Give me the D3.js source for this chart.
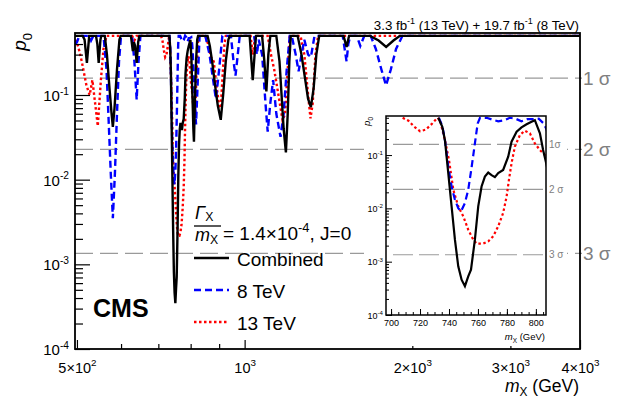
<!DOCTYPE html>
<html>
<head>
<meta charset="utf-8">
<script src="https://cdn.jsdelivr.net/npm/d3@7"></script>
<style>
body { margin: 0; background: #fff; }
text { font-family: "Liberation Sans", Arial, sans-serif; }
</style>
</head>
<body>
<div id="chart"></div>
<script>
// p0 scans: [m_X (GeV), p0]
const combined = [
  [496,0.5],[512,0.5],[516,0.45],[521,0.24],[526,0.5],[541,0.5],[544,0.4],[547,0.24],[551,0.45],[553,0.5],
  [561,0.5],[566,0.3],[572,0.12],[577,0.06],[580,0.042],[584,0.07],[590,0.2],[596,0.45],[599,0.5],
  [625,0.5],[630,0.33],[633,0.42],[636,0.38],[640,0.24],[644,0.42],[647,0.5],
  [732.6,0.5],[735.4,0.34],[737.2,0.19],[739.5,0.046],[741.8,0.0109],[744.1,0.00259],[746.4,0.00082],
  [748.7,0.00046],[751,0.000347],[753.3,0.00053],[755.2,0.00071],[757.9,0.00259],[760.2,0.0109],
  [762.5,0.0257],[764.8,0.0394],[767.1,0.0469],[769.4,0.042],[771.7,0.0385],[774,0.046],[777.4,0.0525],
  [780.9,0.093],[783.2,0.178],[786.7,0.273],[790.1,0.33],[793.6,0.377],[797,0.42],[799.3,0.45],
  [802.8,0.255],[805,0.124],[806.9,0.075],[809,0.04],[811,0.028],[814,0.08],[818,0.25],[822,0.45],[825,0.5],
  [858,0.5],[866,0.38],[875,0.24],[885,0.13],[895,0.075],[906,0.051],[915,0.1],[925,0.25],[935,0.45],[940,0.5],
  [1021,0.5],[1034,0.15],[1048,0.5],
  [1075,0.5],[1085,0.25],[1094,0.11],[1103,0.3],[1112,0.5],
  [1140,0.5],[1155,0.25],[1165,0.1],[1175,0.04],[1186,0.021],[1195,0.06],[1203,0.25],[1210,0.5],
  [1245,0.5],[1265,0.3],[1285,0.15],[1300,0.09],[1315,0.072],[1330,0.12],[1345,0.3],[1361,0.5],
  [1505,0.5],[1524,0.37],[1540,0.5],
  [1680,0.5],[1740,0.44],[1795,0.37],[1850,0.44],[1900,0.5],
  [4000,0.5]
];
const eightTeV = [
  [496,0.4],[500,0.42],[505,0.5],[526,0.5],[530,0.44],[535,0.5],
  [558,0.5],[565,0.2],[570,0.05],[575,0.012],[580,0.0035],[585,0.012],[590,0.06],[595,0.25],[600,0.5],
  [628,0.5],[634,0.25],[640,0.088],[645,0.25],[650,0.5],
  [733,0.5],[735.4,0.35],[737.2,0.19],[739.5,0.061],[741.8,0.0257],[744.1,0.0145],[746.4,0.0101],
  [748.3,0.00875],[751,0.0126],[753.3,0.0223],[755.7,0.061],[757.9,0.166],[759.8,0.39],[761.4,0.5],
  [766,0.5],[770,0.46],[774,0.43],[778,0.45],[782,0.5],[786,0.48],[790,0.43],[794,0.47],[798,0.47],
  [802,0.48],[805,0.4],[807,0.32],[812,0.12],[818,0.045],[824,0.15],[830,0.5],
  [850,0.5],[865,0.3],[878,0.15],[888,0.09],[900,0.2],[912,0.5],
  [945,0.5],[955,0.25],[963,0.17],[972,0.3],[980,0.5],
  [1040,0.5],[1052,0.3],[1060,0.45],[1075,0.3],[1090,0.08],[1100,0.037],[1112,0.08],[1125,0.15],
  [1140,0.06],[1160,0.032],[1175,0.06],[1190,0.2],[1205,0.5],
  [1215,0.5],[1235,0.3],[1250,0.19],[1265,0.3],[1280,0.45],[1300,0.3],[1315,0.28],[1335,0.5],
  [1500,0.5],[1512,0.35],[1524,0.25],[1535,0.4],[1548,0.5],
  [1590,0.5],[1613,0.38],[1640,0.5],
  [1684,0.5],[1720,0.35],[1760,0.2],[1794,0.13],[1830,0.2],[1870,0.35],[1920,0.5],
  [4000,0.5]
];
const thirteenTeV = [
  [496,0.45],[500,0.42],[505,0.33],[510,0.25],[515,0.18],[520,0.13],[527,0.1],[533,0.15],[539,0.08],
  [545,0.043],[552,0.15],[558,0.35],[565,0.5],
  [628,0.5],[634,0.44],[640,0.5],
  [708,0.5],[712,0.44],[716,0.34],[720,0.28],[724,0.3],[728,0.38],[732,0.5],[733.8,0.45],[737.2,0.19],
  [740,0.081],[743,0.0223],[746.4,0.0109],[749.9,0.00707],[753.3,0.00398],[756.8,0.00259],[759.1,0.00218],
  [763.7,0.00218],[767.1,0.0024],[770.6,0.003],[774,0.0046],[777.4,0.0082],[779.8,0.0167],[781.4,0.0343],
  [783.2,0.07],[785.5,0.144],[789,0.238],[792.4,0.286],[795.9,0.255],[799.3,0.166],[802.8,0.124],[806.2,0.1],
  [810,0.06],[814,0.045],[820,0.2],[826,0.5],
  [850,0.5],[860,0.4],[870,0.28],[880,0.25],[890,0.13],[900,0.075],[906,0.07],[912,0.15],[920,0.4],[925,0.5],
  [1025,0.5],[1034,0.3],[1045,0.5],
  [1100,0.5],[1115,0.3],[1130,0.2],[1150,0.1],[1170,0.05],[1182,0.06],[1195,0.2],[1205,0.5],
  [1260,0.5],[1280,0.3],[1300,0.1],[1313,0.053],[1325,0.08],[1340,0.3],[1355,0.5],
  [4000,0.5]
];

const sigmaP = [0.158655, 0.02275, 0.00135];
const sigmaLabels = ['1 σ', '2 σ', '3 σ'];
const insetSigmaLabels = ['1σ', '2 σ', '3 σ'];
const yDecades = [1e-4, 1e-3, 1e-2, 1e-1];
const yTickText = [['10','-4'], ['10','-3'], ['10','-2'], ['10','-1']];
const xMajor = [500, 1000, 2000, 3000, 4000];
const xTickText = [['5×10','2'], ['10','3'], ['2×10','3'], ['3×10','3'], ['4×10','3']];
const xMinor = [600, 700, 800, 900];
const insetXTicks = [700, 720, 740, 760, 780, 800];

const series = [
  {name: 'Combined', data: combined, color: '#000', dash: null},
  {name: '8 TeV', data: eightTeV, color: '#0000ff', dash: '7,4'},
  {name: '13 TeV', data: thirteenTeV, color: '#ff0000', dash: '2.5,2.5'}
];

// rich text with super/subscripts; baseDy shifts the whole line
const rich = (sel, parts, size, baseDy = 0, subShift = 0.3) => {
  sel.text(null);
  let shift = -baseDy;
  parts.forEach(([t, kind]) => {
    const target = kind === 'sup' ? -0.42 * size : kind === 'sub' ? subShift * size : 0;
    const ts = sel.append('tspan').attr('dy', target - shift).text(t);
    if (kind === 'sup' || kind === 'sub') ts.attr('font-size', size * 0.68);
    if (kind === 'it') ts.attr('font-style', 'italic');
    shift = target;
  });
};

const svg = d3.select('#chart').append('svg').attr('width', 623).attr('height', 398);
const fr = {left: 75, right: 580, top: 33, bottom: 349};
const x = d3.scaleLog().domain([496, 4000]).range([fr.left, fr.right]);
const y = d3.scaleLog().domain([1e-4, 0.54]).range([fr.bottom, fr.top]);

// sigma lines
svg.selectAll('.sig').data(sigmaP).join('line')
  .attr('x1', fr.left).attr('x2', fr.right + 2)
  .attr('y1', d => y(d)).attr('y2', d => y(d))
  .attr('stroke', '#9a9a9a').attr('stroke-width', 1.3).attr('stroke-dasharray', '18,7');
svg.selectAll('.siglab').data(sigmaP).join('text')
  .attr('x', 583).attr('y', d => y(d)).attr('dy', '0.35em')
  .attr('font-size', 19).attr('fill', '#808080')
  .text((d, i) => sigmaLabels[i]);

svg.append('clipPath').attr('id', 'mainclip').append('rect')
  .attr('x', fr.left).attr('y', fr.top).attr('width', fr.right - fr.left).attr('height', fr.bottom - fr.top);

const line = d3.line().x(d => x(d[0])).y(d => y(d[1]));
svg.append('g').attr('clip-path', 'url(#mainclip)')
  .selectAll('path').data(series.slice().reverse()).join('path')
  .attr('d', d => line(d.data)).attr('fill', 'none')
  .attr('stroke', d => d.color).attr('stroke-width', 2.4)
  .attr('stroke-dasharray', d => d.dash);

// axes
const yMinor = [];
yDecades.forEach(d => d3.range(2, 10).forEach(k => { if (d * k < 0.54) yMinor.push(d * k); }));
svg.append('g').attr('transform', `translate(${fr.left},0)`)
  .call(d3.axisLeft(y).tickValues(yMinor).tickSize(-8).tickFormat(''))
  .call(g => g.select('.domain').remove())
  .call(g => g.selectAll('line').attr('stroke-width', 1.2));
svg.append('g').attr('transform', `translate(${fr.left},0)`)
  .call(d3.axisLeft(y).tickValues(yDecades).tickSize(-15).tickPadding(6).tickFormat(''))
  .call(g => g.select('.domain').remove())
  .call(g => g.selectAll('line').attr('stroke-width', 1.2))
  .call(g => g.selectAll('text').attr('font-size', 15).attr('fill', '#000').attr('dy', null)
    .each(function(d, i) { rich(d3.select(this), [[yTickText[i][0], 'n'], [yTickText[i][1], 'sup']], 15, 5.5); }));
svg.append('g').attr('transform', `translate(0,${fr.bottom})`)
  .call(d3.axisBottom(x).tickValues(xMinor).tickSize(-5).tickFormat(''))
  .call(g => g.select('.domain').remove())
  .call(g => g.selectAll('line').attr('stroke-width', 1.2));
svg.append('g').attr('transform', `translate(0,${fr.bottom})`)
  .call(d3.axisBottom(x).tickValues(xMajor).tickSize(-9).tickPadding(9).tickFormat(''))
  .call(g => g.select('.domain').remove())
  .call(g => g.selectAll('line').attr('stroke-width', 1.2))
  .call(g => g.selectAll('text').attr('font-size', 14.5).attr('fill', '#000').attr('dy', null)
    .each(function(d, i) { rich(d3.select(this), [[xTickText[i][0], 'n'], [xTickText[i][1], 'sup']], 14.5, 14.5); }));

svg.append('rect').attr('x', fr.left).attr('y', fr.top)
  .attr('width', fr.right - fr.left).attr('height', fr.bottom - fr.top)
  .attr('fill', 'none').attr('stroke', '#000').attr('stroke-width', 1.8);

// titles
const title = svg.append('text').attr('x', 579).attr('y', 30).attr('text-anchor', 'end').attr('font-size', 13.3);
rich(title, [['3.3 fb','n'],['-1','sup'],[' (13 TeV) + 19.7 fb','n'],['-1','sup'],[' (8 TeV)','n']], 13.3);
const xlab = svg.append('text').attr('x', 579).attr('y', 392).attr('text-anchor', 'end').attr('font-size', 17.5);
rich(xlab, [['m','it'],['X','sub'],[' (GeV)','n']], 17.5, 0, 0.22);
const ylab = svg.append('text').attr('transform', 'translate(26,33) rotate(-90)').attr('text-anchor', 'end').attr('font-size', 19);
rich(ylab, [['p','it'],['0','sub']], 19);

svg.append('text').attr('x', 93).attr('y', 317).attr('font-size', 25).attr('font-weight', 'bold').text('CMS');

// legend
const gam = svg.append('text').attr('x', 195).attr('y', 219).attr('font-size', 18);
rich(gam, [['Γ','it'],['X','sub']], 18, 0, 0.12);
svg.append('line').attr('x1', 194).attr('x2', 221).attr('y1', 226).attr('y2', 226).attr('stroke', '#000').attr('stroke-width', 1.3);
const mx = svg.append('text').attr('x', 195).attr('y', 241).attr('font-size', 18);
rich(mx, [['m','it'],['X','sub']], 18, 0, 0.18);
const eq = svg.append('text').attr('x', 223).attr('y', 240).attr('font-size', 19);
rich(eq, [['= 1.4×10','n'],['-4','sup'],[', J=0','n']], 19);

const legY = [258, 290, 322];
svg.selectAll('.legline').data(series).join('line')
  .attr('x1', 194).attr('x2', 229)
  .attr('y1', (d, i) => legY[i]).attr('y2', (d, i) => legY[i])
  .attr('stroke', d => d.color).attr('stroke-width', 2.4).attr('stroke-dasharray', d => d.dash);
svg.selectAll('.legtext').data(series).join('text')
  .attr('x', 237).attr('y', (d, i) => legY[i] + 8).attr('font-size', 19)
  .text(d => d.name);

// inset
const ins = {left: 386, right: 546, top: 116, bottom: 315};
svg.append('rect').attr('x', 364).attr('y', 100).attr('width', 203).attr('height', 246).attr('fill', '#fff');
const xi = d3.scaleLinear().domain([696.5, 807]).range([ins.left, ins.right]);
const yi = d3.scaleLog().domain([1e-4, 0.54]).range([ins.bottom, ins.top]);
const gi = svg.append('g');
gi.selectAll('.isig').data(sigmaP).join('line')
  .attr('x1', 393).attr('x2', 547)
  .attr('y1', d => yi(d)).attr('y2', d => yi(d))
  .attr('stroke', '#9a9a9a').attr('stroke-width', 1.2).attr('stroke-dasharray', '20,6');
gi.selectAll('.isiglab').data(sigmaP).join('text')
  .attr('x', 549).attr('y', d => yi(d)).attr('dy', '0.35em')
  .attr('font-size', 10).attr('fill', '#808080')
  .text((d, i) => insetSigmaLabels[i]);
svg.append('clipPath').attr('id', 'insclip').append('rect')
  .attr('x', ins.left).attr('y', ins.top).attr('width', ins.right - ins.left).attr('height', ins.bottom - ins.top);
const iline = d3.line().x(d => xi(d[0])).y(d => yi(d[1]));
gi.append('g').attr('clip-path', 'url(#insclip)')
  .selectAll('path').data(series.slice().reverse()).join('path')
  .attr('d', d => iline(d.data.filter(p => p[0] > 680 && p[0] < 830))).attr('fill', 'none')
  .attr('stroke', d => d.color).attr('stroke-width', 2.2)
  .attr('stroke-dasharray', d => d.dash);

gi.append('g').attr('transform', `translate(${ins.left},0)`)
  .call(d3.axisLeft(yi).tickValues(yMinor).tickSize(-3).tickFormat(''))
  .call(g => g.select('.domain').remove());
gi.append('g').attr('transform', `translate(${ins.left},0)`)
  .call(d3.axisLeft(yi).tickValues(yDecades).tickSize(-6).tickPadding(3).tickFormat(''))
  .call(g => g.select('.domain').remove())
  .call(g => g.selectAll('text').attr('font-size', 9).attr('fill', '#000').attr('dy', null)
    .each(function(d, i) { rich(d3.select(this), [[yTickText[i][0], 'n'], [yTickText[i][1], 'sup']], 9, 3.3); }));
gi.append('g').attr('transform', `translate(0,${ins.bottom})`)
  .call(d3.axisBottom(xi).tickValues(d3.range(700, 806, 5)).tickSize(-3).tickFormat(''))
  .call(g => g.select('.domain').remove());
gi.append('g').attr('transform', `translate(0,${ins.bottom})`)
  .call(d3.axisBottom(xi).tickValues(insetXTicks).tickSize(-6).tickPadding(4).tickFormat(d3.format('d')))
  .call(g => g.select('.domain').remove())
  .call(g => g.selectAll('text').attr('font-size', 9).attr('fill', '#000').attr('dy', '0.8em'));
gi.append('rect').attr('x', ins.left).attr('y', ins.top)
  .attr('width', ins.right - ins.left).attr('height', ins.bottom - ins.top)
  .attr('fill', 'none').attr('stroke', '#000').attr('stroke-width', 1.5);
const ixl = gi.append('text').attr('x', 545).attr('y', 340).attr('text-anchor', 'end').attr('font-size', 9.5);
rich(ixl, [['m','it'],['X','sub'],[' (GeV)','n']], 9.5);
const iyl = gi.append('text').attr('transform', 'translate(370,117) rotate(-90)').attr('text-anchor', 'end').attr('font-size', 9.5);
rich(iyl, [['p','it'],['0','sub']], 9.5);
</script>
</body>
</html>
